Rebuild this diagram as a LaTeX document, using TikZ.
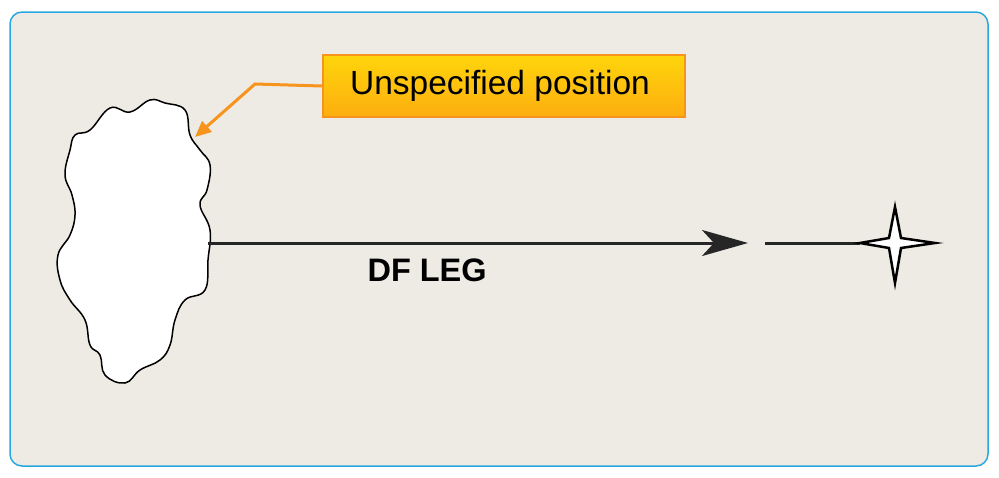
\documentclass[tikz,border=0pt]{standalone}
\usepackage{fontspec}
\setmainfont{Liberation Sans}
\usetikzlibrary{arrows.meta,positioning}
\definecolor{panel}{HTML}{EEEBE4}
\definecolor{frameblue}{HTML}{29A8E0}
\definecolor{callout}{HTML}{F7941D}
\definecolor{calloutfill}{HTML}{FDB913}
\begin{document}
\begin{tikzpicture}[x=1pt,y=-1pt,
                    label box/.style={draw=callout,line width=2.5pt,top color=calloutfill!60!yellow,bottom color=calloutfill!80!orange,
                      minimum width=362pt,minimum height=62pt,font=\fontsize{33.5}{36}\selectfont},
                    leg/.style={line width=3pt,draw=black!85},
                    fix/.style={draw=black,line width=2.5pt,fill=white,line join=miter}]
  \useasboundingbox (0,0) rectangle (999,477);
  \draw[frameblue,fill=panel,line width=1.5pt,rounded corners=12pt] (10,12) rectangle (988,466);

  % unspecified start
  \draw[fill=white,line width=1.5pt] plot[smooth cycle,tension=0.7] coordinates {
    (110,108) (130,112) (150,100) (165,103) (185,110) (190,135) (200,150) (210,165)
    (207,190) (200,205) (210,230) (208,260) (205,290) (185,300) (175,320) (170,345)
    (160,360) (140,370) (125,383) (105,375) (100,355) (90,345) (85,320) (70,300)
    (60,280) (58,255) (70,235) (75,215) (72,195) (65,175) (70,150) (75,135) (90,130)};
  \coordinate (start) at (208,243);
  \coordinate (tip) at (195,137);

  \node[label box] (pos) at (504,86) {\hspace*{-8pt}Unspecified position};
  \draw[callout,line width=3pt,-{Triangle[length=16pt,width=14pt]}] (pos.west) -- (255,84) -- (tip);

  % leg to fix
  \coordinate (head) at (748,243);
  \coordinate (gap) at (765,243);
  \draw[leg,-{Stealth[length=46pt,width=26pt,inset=12pt]}] (start) -- (head);
  \draw[leg] (gap) -- (860,243);
  \draw[fix] (860,243) -- (889,238) -- (895,207) -- (901,238) -- (935,243)
    -- (901,248) -- (895,283) -- (889,248) -- cycle;
  \node[font=\bfseries\fontsize{32.5}{36}\selectfont,anchor=west] (dfleg) at (364,270) {DF LEG};
\end{tikzpicture}
\end{document}
